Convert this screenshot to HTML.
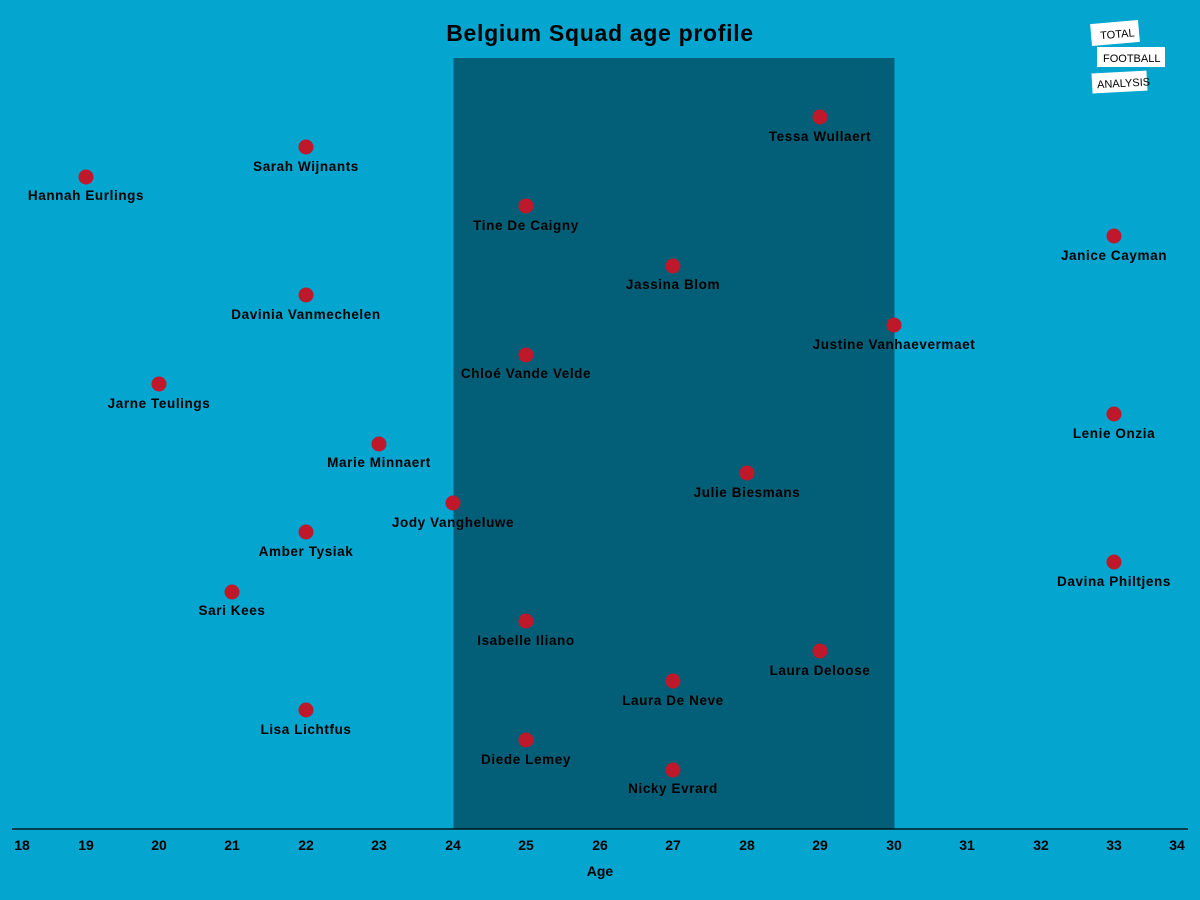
<!DOCTYPE html>
<html><head><meta charset="utf-8"><style>
html,body{margin:0;padding:0;background:#04a5cf;}
svg{display:block;font-family:"Liberation Sans",sans-serif;font-weight:bold;}
</style></head><body>
<svg width="1200" height="900" viewBox="0 0 1200 900" xmlns="http://www.w3.org/2000/svg">
<rect width="1200" height="900" fill="#04a5cf"/>
<rect x="453.5" y="58" width="441" height="771" fill="#035f78"/>
<line x1="12" y1="829" x2="1188" y2="829" stroke="#000" stroke-width="1.2"/>
<text x="600" y="41" font-size="23" letter-spacing="0.7" text-anchor="middle" fill="#000">Belgium Squad age profile</text>
<g font-size="14" text-anchor="middle" fill="#000">
<text x="22" y="850">18</text><text x="86" y="850">19</text><text x="159" y="850">20</text><text x="232" y="850">21</text><text x="306" y="850">22</text><text x="379" y="850">23</text><text x="453" y="850">24</text><text x="526" y="850">25</text><text x="600" y="850">26</text><text x="673" y="850">27</text><text x="747" y="850">28</text><text x="820" y="850">29</text><text x="894" y="850">30</text><text x="967" y="850">31</text><text x="1041" y="850">32</text><text x="1114" y="850">33</text><text x="1177" y="850">34</text>
<text x="600" y="876">Age</text>
</g>
<g font-size="13.5" letter-spacing="0.6" text-anchor="middle" fill="#000">
<circle cx="820" cy="117" r="7.5" fill="#c0182b"/><text x="820" y="141">Tessa Wullaert</text>
<circle cx="306" cy="147" r="7.5" fill="#c0182b"/><text x="306" y="171">Sarah Wijnants</text>
<circle cx="86" cy="177" r="7.5" fill="#c0182b"/><text x="86" y="200">Hannah Eurlings</text>
<circle cx="526" cy="206" r="7.5" fill="#c0182b"/><text x="526" y="230">Tine De Caigny</text>
<circle cx="1114" cy="236" r="7.5" fill="#c0182b"/><text x="1114" y="260">Janice Cayman</text>
<circle cx="673" cy="266" r="7.5" fill="#c0182b"/><text x="673" y="289">Jassina Blom</text>
<circle cx="306" cy="295" r="7.5" fill="#c0182b"/><text x="306" y="319">Davinia Vanmechelen</text>
<circle cx="894" cy="325" r="7.5" fill="#c0182b"/><text x="894" y="349">Justine Vanhaevermaet</text>
<circle cx="526" cy="355" r="7.5" fill="#c0182b"/><text x="526" y="378">Chloé Vande Velde</text>
<circle cx="159" cy="384" r="7.5" fill="#c0182b"/><text x="159" y="408">Jarne Teulings</text>
<circle cx="1114" cy="414" r="7.5" fill="#c0182b"/><text x="1114" y="438">Lenie Onzia</text>
<circle cx="379" cy="444" r="7.5" fill="#c0182b"/><text x="379" y="467">Marie Minnaert</text>
<circle cx="747" cy="473" r="7.5" fill="#c0182b"/><text x="747" y="497">Julie Biesmans</text>
<circle cx="453" cy="503" r="7.5" fill="#c0182b"/><text x="453" y="527">Jody Vangheluwe</text>
<circle cx="306" cy="532" r="7.5" fill="#c0182b"/><text x="306" y="556">Amber Tysiak</text>
<circle cx="1114" cy="562" r="7.5" fill="#c0182b"/><text x="1114" y="586">Davina Philtjens</text>
<circle cx="232" cy="592" r="7.5" fill="#c0182b"/><text x="232" y="615">Sari Kees</text>
<circle cx="526" cy="621" r="7.5" fill="#c0182b"/><text x="526" y="645">Isabelle Iliano</text>
<circle cx="820" cy="651" r="7.5" fill="#c0182b"/><text x="820" y="675">Laura Deloose</text>
<circle cx="673" cy="681" r="7.5" fill="#c0182b"/><text x="673" y="705">Laura De Neve</text>
<circle cx="306" cy="710" r="7.5" fill="#c0182b"/><text x="306" y="734">Lisa Lichtfus</text>
<circle cx="526" cy="740" r="7.5" fill="#c0182b"/><text x="526" y="764">Diede Lemey</text>
<circle cx="673" cy="770" r="7.5" fill="#c0182b"/><text x="673" y="793">Nicky Evrard</text>
</g>
<g font-size="11" font-weight="normal" fill="#000">
<rect x="1091" y="22" width="48" height="22" fill="#fff" transform="rotate(-5 1115 33)"/>
<text x="1100" y="38" transform="rotate(-5 1115 33)">TOTAL</text>
<rect x="1097" y="47" width="68" height="20" fill="#fff"/>
<text x="1103" y="62">FOOTBALL</text>
<rect x="1092" y="72" width="55" height="20" fill="#fff" transform="rotate(-3 1120 82)"/>
<text x="1097" y="87" transform="rotate(-3 1120 82)">ANALYSIS</text>
</g>
</svg>
</body></html>
